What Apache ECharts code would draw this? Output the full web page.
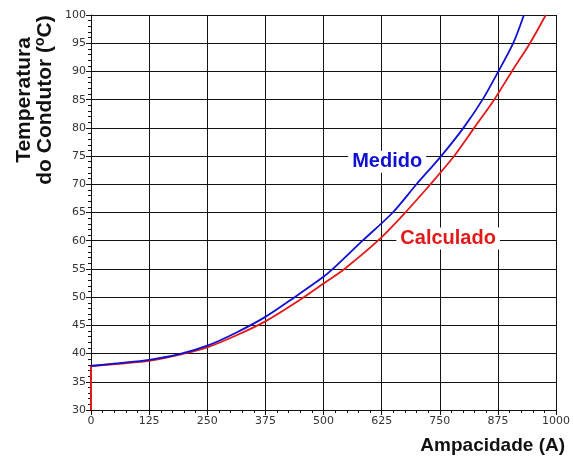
<!DOCTYPE html>
<html>
<head>
<meta charset="utf-8">
<script src="https://cdn.jsdelivr.net/npm/echarts@6/dist/echarts.min.js"></script>
<style>
  html, body { margin: 0; padding: 0; background: #fff; }
  #chart { width: 573px; height: 457px; }
</style>
</head>
<body>
<div id="chart"></div>
<script>
// valores
const xTicks = [0, 125, 250, 375, 500, 625, 750, 875, 1000];
const yTicks = [30, 35, 40, 45, 50, 55, 60, 65, 70, 75, 80, 85, 90, 95, 100];

// Medido (azul)
const medidoX = [0, 60, 125, 190, 250, 312, 375, 438, 500, 520, 584, 649, 700, 753, 801, 842, 876, 908, 931];
const medidoY = [37.8, 38.3, 38.9, 39.9, 41.4, 43.7, 46.5, 50.0, 53.6, 55, 60, 65, 70, 75, 80, 85, 90, 95, 100];

// Calculado (vermelho)
const calcX = [0, 60, 125, 200, 250, 312, 375, 438, 500, 545, 617, 676, 730, 781, 824, 867, 905, 944, 978];
const calcY = [37.8, 38.2, 38.7, 40.0, 41.1, 43.2, 45.7, 48.9, 52.4, 55, 60, 65, 70, 75, 80, 85, 90, 95, 100];
// trecho vertical no início da curva calculada
const calcStemX = [0, 0];
const calcStemY = [30, 37.8];

const pairs = (xs, ys) => xs.map((x, i) => [x, ys[i]]);

const chart = echarts.init(document.getElementById('chart'));

const tickFont = { color: '#333', fontSize: 11, fontFamily: 'DejaVu Sans' };
const boldFont = size => 'bold ' + size + 'px "Liberation Sans", Arial, sans-serif';

chart.setOption({
  animation: false,
  grid: { left: 91, right: 16, top: 15, bottom: 47 },
  xAxis: {
    type: 'value',
    min: 0,
    max: 1000,
    interval: 125,
    axisLine: { lineStyle: { color: '#111', width: 1 } },
    axisTick: { show: true, length: 5, lineStyle: { color: '#111' } },
    minorTick: { show: true, splitNumber: 5, length: 3, lineStyle: { color: '#111' } },
    splitLine: { show: true, lineStyle: { color: '#111', width: 1 } },
    axisLabel: Object.assign({ margin: 6, formatter: v => String(v) }, tickFont),
    name: 'Ampacidade (A)',
    nameLocation: 'end',
    nameGap: 0,
    nameTextStyle: {
      color: '#111', fontSize: 19, fontWeight: 'bold', fontFamily: 'Liberation Sans',
      align: 'right', verticalAlign: 'top', padding: [26, -9, 0, 0]
    }
  },
  yAxis: {
    type: 'value',
    min: 30,
    max: 100,
    interval: 5,
    axisLine: { show: true, lineStyle: { color: '#111', width: 1 } },
    axisTick: { show: true, length: 5, lineStyle: { color: '#111' } },
    minorTick: { show: true, splitNumber: 5, length: 3, lineStyle: { color: '#111' } },
    splitLine: { show: true, lineStyle: { color: '#111', width: 1 } },
    axisLabel: Object.assign({ margin: 5 }, tickFont)
  },
  series: [
    {
      name: 'Calculado',
      type: 'line',
      data: pairs(calcX, calcY),
      smooth: 0.3,
      showSymbol: false,
      lineStyle: { color: '#e31919', width: 1.8 }
    },
    {
      name: 'CalculadoInicio',
      type: 'line',
      data: pairs(calcStemX, calcStemY),
      showSymbol: false,
      lineStyle: { color: '#e31919', width: 2 }
    },
    {
      name: 'Medido',
      type: 'line',
      data: pairs(medidoX, medidoY),
      smooth: 0.3,
      showSymbol: false,
      lineStyle: { color: '#1010d4', width: 1.8 }
    }
  ]
});

// rótulos das curvas posicionados em coordenadas de dados
const medidoPos = chart.convertToPixel({ gridIndex: 0 }, [637, 74]);
const calcPos = chart.convertToPixel({ gridIndex: 0 }, [768, 60.4]);

chart.setOption({
  graphic: [
    {
      type: 'text',
      x: medidoPos[0], y: medidoPos[1],
      style: {
        text: 'Medido',
        fill: '#1010d4',
        font: boldFont(20),
        align: 'center', verticalAlign: 'middle',
        backgroundColor: '#fff', padding: [2, 4, 0, 4]
      }
    },
    {
      type: 'text',
      x: calcPos[0], y: calcPos[1],
      style: {
        text: 'Calculado',
        fill: '#e31919',
        font: boldFont(20),
        align: 'center', verticalAlign: 'middle',
        backgroundColor: '#fff', padding: [2, 4, 0, 4]
      }
    },
    {
      type: 'text',
      x: 24, y: 100,
      rotation: Math.PI / 2,
      style: {
        text: 'Temperatura',
        fill: '#111',
        font: boldFont(21),
        align: 'center', verticalAlign: 'middle'
      }
    },
    {
      type: 'text',
      x: 45, y: 100,
      rotation: Math.PI / 2,
      style: {
        text: 'do Condutor ({sup|o}C)',
        fill: '#111',
        font: boldFont(21),
        align: 'center', verticalAlign: 'middle',
        rich: {
          sup: {
            fill: '#111',
            font: boldFont(14),
            verticalAlign: 'top',
            padding: [0, 0, 10, 0]
          }
        }
      }
    }
  ]
});
</script>
</body>
</html>
